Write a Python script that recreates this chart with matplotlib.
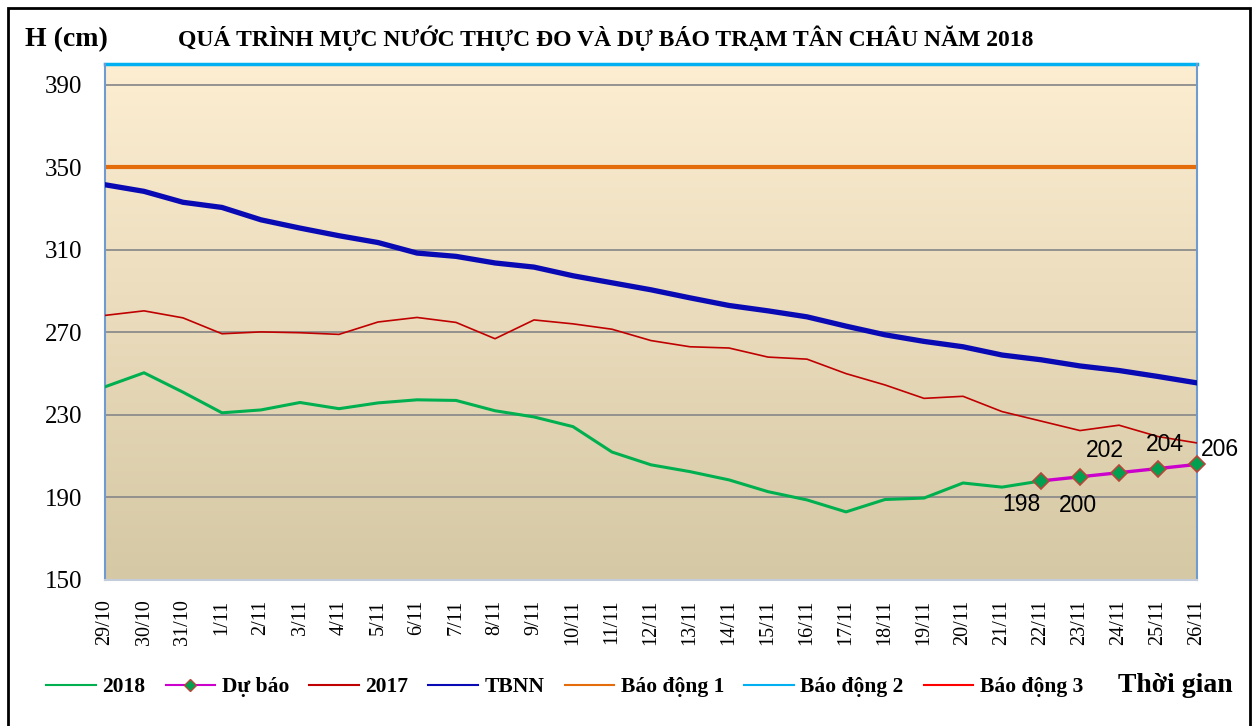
import numpy as np
import matplotlib.pyplot as plt
from matplotlib.lines import Line2D
from matplotlib.patches import Rectangle

# data (cm)
dates = ["29/10", "30/10", "31/10", "1/11", "2/11", "3/11", "4/11", "5/11", "6/11", "7/11",
         "8/11", "9/11", "10/11", "11/11", "12/11", "13/11", "14/11", "15/11", "16/11", "17/11",
         "18/11", "19/11", "20/11", "21/11", "22/11", "23/11", "24/11", "25/11", "26/11"]

h2018 = [243.6, 250.4, 241, 231, 232.4, 236, 233, 235.8, 237.3, 237, 232, 229, 224.3,
         212, 205.8, 202.5, 198.5, 192.8, 188.8, 183, 189, 189.7, 197, 195, 198]
du_bao = [198, 200, 202, 204, 206]
h2017 = [278.2, 280.4, 277, 269.3, 270.2, 269.8, 269, 275, 277.2, 274.8, 266.9, 276, 274.1,
         271.5, 266, 263, 262.4, 258, 257, 250, 244.5, 238, 239, 231.6, 227, 222.4, 225, 219.5, 216.4]
tbnn = [341.5, 338.3, 333, 330.5, 324.5, 320.5, 316.8, 313.5, 308.4, 306.8, 303.6, 301.6, 297.4,
        294, 290.6, 286.7, 283, 280.4, 277.5, 273, 268.8, 265.6, 263, 259, 256.7, 253.7, 251.5, 248.6, 245.5]
bao_dong_1 = 350
bao_dong_2 = 400
bao_dong_3 = 450

x = np.arange(len(dates))
x2018 = x[:len(h2018)]
x_db = x[len(h2018) - 1:len(h2018) - 1 + len(du_bao)]

serif = "Liberation Serif"

fig = plt.figure(figsize=(12.59, 7.26), dpi=100)
ax = fig.add_axes([105 / 1259, 1 - 580 / 726, (1197 - 105) / 1259, (580 - 64) / 726])

# gradient background
grad = np.linspace(0, 1, 256).reshape(-1, 1)
top = np.array([253, 238, 210]) / 255
bot = np.array([213, 200, 164]) / 255
img = top * (1 - grad[..., None]) + bot * grad[..., None]
img = img.reshape(256, 1, 3)
ax.imshow(img, extent=[0, len(dates) - 1, 150, 400], aspect="auto", zorder=0)

ax.set_xlim(0, len(dates) - 1)
ax.set_ylim(150, 400)
ax.set_yticks([150, 190, 230, 270, 310, 350, 390])
ax.grid(axis="y", color="#8c8c8c", lw=1.3, zorder=1)
ax.set_axisbelow(True)

ax.axhline(bao_dong_3, color="#FF0000", lw=1.5, zorder=2)
ax.axhline(bao_dong_2, color="#00B0F0", lw=2.5, zorder=2, clip_on=False)
ax.axhline(bao_dong_1, color="#E46C0A", lw=3, zorder=2)
ax.plot(x, tbnn, color="#0A0AB4", lw=3.8, zorder=3, solid_capstyle="round")
ax.plot(x, h2017, color="#C00000", lw=1.2, zorder=3)
ax.plot(x2018, h2018, color="#00B050", lw=2.2, zorder=4)
ax.plot(x_db, du_bao, color="#CC00CC", lw=2.4, zorder=5, marker="D", markersize=8,
        markerfacecolor="#00A050", markeredgecolor="#B5473A", markeredgewidth=1.2, clip_on=False)

# data labels for the forecast
offsets = [(-14, -17), (-1.5, -21), (-10, 16), (5, 17), (16.5, 11)]
for xi, v, (dx, dy) in zip(x_db, du_bao, offsets):
    ax.annotate(str(v), (xi, v), xytext=(dx, dy), textcoords="offset points",
                ha="center", va="center", fontsize=16.5, family="Liberation Sans",
                color="black", zorder=6, annotation_clip=False)

ax.set_xticks(x)
ax.set_xticklabels(dates, rotation=90, family=serif, fontsize=14.5)
ax.tick_params(axis="x", length=0, pad=14)
ax.tick_params(axis="y", length=0, pad=16.5, labelsize=18)
for lab in ax.get_yticklabels():
    lab.set_family(serif)

for side in ["left", "right"]:
    ax.spines[side].set_color("#6F9BD1")
    ax.spines[side].set_linewidth(1.5)
ax.spines["bottom"].set_color("#C3CCDA")
ax.spines["bottom"].set_linewidth(1.5)
ax.spines["top"].set_visible(False)

fig.text(25 / 1259, 1 - 40 / 726, "H (cm)", family=serif, fontsize=20, fontweight="bold",
         va="center", ha="left")
fig.text(178 / 1259, 1 - 38 / 726, "QUÁ TRÌNH MỰC NƯỚC THỰC ĐO VÀ DỰ BÁO TRẠM TÂN CHÂU NĂM 2018",
         family=serif, fontsize=17, fontweight="bold", va="center", ha="left")

handles = [
    Line2D([], [], color="#00B050", lw=1.5),
    Line2D([], [], color="#CC00CC", lw=1.5, marker="D", markersize=6,
           markerfacecolor="#00A050", markeredgecolor="#B5473A"),
    Line2D([], [], color="#C00000", lw=1.5),
    Line2D([], [], color="#0A0AB4", lw=1.5),
    Line2D([], [], color="#E46C0A", lw=1.5),
    Line2D([], [], color="#00B0F0", lw=1.5),
    Line2D([], [], color="#FF0000", lw=1.5),
]
labels = ["2018", "Dự báo", "2017", "TBNN", "Báo động 1", "Báo động 2", "Báo động 3"]
fig.legend(handles, labels, loc="center left", bbox_to_anchor=(27 / 1259, 1 - 687 / 726),
           ncol=7, frameon=False, prop={"family": serif, "weight": "bold", "size": 15.5},
           handlelength=2.3, columnspacing=0.94, handletextpad=0.3)
fig.text(1118 / 1259, 1 - 686 / 726, "Thời gian", family=serif, fontsize=20,
         fontweight="bold", va="center", ha="left")

# outer frame
fig.patches.append(Rectangle((8 / 1259, -0.02), (1250 - 8) / 1259, 1.02 - 8 / 726,
                             transform=fig.transFigure, fill=False, edgecolor="black", lw=2))

fig.savefig("out.png", dpi=100)
